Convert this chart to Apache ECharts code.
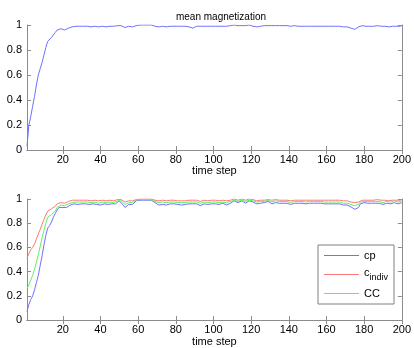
<!DOCTYPE html>
<html><head><meta charset="utf-8">
<script src="https://cdn.jsdelivr.net/npm/echarts@6/dist/echarts.min.js"></script>
<style>html,body{margin:0;padding:0;background:#fff}#c{width:414px;height:348px}</style>
</head><body><div id="c"></div>
<script>
const timeSteps = Array.from({length: 200}, (_, i) => String(i + 1));
const yTicks = [0, 0.2, 0.4, 0.6, 0.8, 1];
const topTitle = 'mean magnetization';
const xName = 'time step';
const legendNames = ['cp', 'c_indiv', 'CC'];

const magTop = [
0.03,0.20,0.27,0.35,0.43,0.52,0.60,0.65,0.70,0.76,0.82,0.87,0.88,0.90,0.92,0.94,0.96,0.97,0.97,0.965,
0.96,0.97,0.975,0.98,0.985,0.99,0.99,0.99,0.99,0.99,0.99,0.99,0.99,0.99,0.985,0.99,0.99,0.99,0.985,0.99,
0.99,0.99,0.985,0.99,0.99,0.99,0.99,0.99,0.995,1.0,0.995,0.985,0.98,0.985,0.99,0.98,0.985,0.99,0.995,1.0,
1.0,1.0,1.0,1.0,1.0,1.0,1.0,0.995,0.99,0.985,0.985,0.985,0.99,0.99,0.985,0.99,0.99,0.99,0.99,0.99,
0.99,0.99,0.99,0.985,0.99,0.99,0.985,0.98,0.975,0.98,0.99,0.99,0.99,0.99,0.99,0.99,0.99,0.99,0.99,0.99,
0.99,0.99,0.99,0.99,0.99,0.99,0.99,0.99,0.995,0.995,1.0,0.995,0.995,1.0,0.995,0.99,0.995,1.0,1.0,0.995,
0.99,0.985,0.985,0.99,0.99,0.995,0.995,0.995,0.995,0.995,0.995,0.995,0.995,0.995,0.995,0.99,0.995,0.995,0.995,0.995,
0.99,0.99,0.995,0.99,0.99,0.99,0.99,0.985,0.99,0.99,0.99,0.99,0.99,0.985,0.99,0.99,0.99,0.99,0.99,0.995,
0.99,0.99,0.99,0.985,0.99,0.985,0.99,0.99,0.985,0.98,0.985,0.98,0.975,0.97,0.965,0.97,0.985,0.99,0.995,0.99,
0.99,0.99,0.99,0.99,0.99,0.99,0.995,0.99,0.99,0.985,0.99,0.99,0.985,0.99,0.99,0.995,0.99,0.99,0.99,0.995];

const cpBottom = [
0.07,0.13,0.17,0.20,0.25,0.31,0.37,0.45,0.53,0.62,0.70,0.76,0.78,0.81,0.85,0.88,0.91,0.93,0.935,0.93,
0.915,0.93,0.945,0.95,0.955,0.96,0.96,0.955,0.96,0.96,0.965,0.96,0.96,0.955,0.95,0.96,0.96,0.955,0.945,0.95,
0.96,0.96,0.955,0.955,0.96,0.96,0.955,0.96,0.975,0.985,0.97,0.95,0.93,0.945,0.955,0.94,0.955,0.97,0.985,0.99,
0.99,0.985,0.99,0.99,0.99,0.985,0.99,0.985,0.97,0.955,0.95,0.955,0.955,0.96,0.95,0.955,0.96,0.955,0.96,0.96,
0.955,0.96,0.95,0.945,0.955,0.96,0.96,0.955,0.96,0.955,0.96,0.95,0.945,0.955,0.96,0.96,0.955,0.96,0.96,0.955,
0.96,0.96,0.955,0.96,0.965,0.955,0.95,0.96,0.965,0.975,0.985,0.975,0.97,0.98,0.985,0.975,0.965,0.975,0.985,0.99,
0.975,0.965,0.96,0.97,0.965,0.96,0.97,0.975,0.98,0.97,0.96,0.965,0.97,0.96,0.965,0.97,0.965,0.96,0.965,0.96,
0.955,0.96,0.965,0.97,0.965,0.96,0.965,0.97,0.96,0.955,0.965,0.97,0.965,0.96,0.965,0.97,0.965,0.96,0.96,0.965,
0.96,0.955,0.96,0.965,0.96,0.955,0.96,0.955,0.95,0.955,0.95,0.94,0.935,0.925,0.915,0.905,0.93,0.96,0.965,0.97,
0.97,0.965,0.97,0.965,0.96,0.965,0.97,0.965,0.96,0.955,0.96,0.965,0.95,0.96,0.965,0.97,0.965,0.96,0.965,0.97];

const cIndivBottom = [
0.51,0.55,0.58,0.60,0.63,0.67,0.71,0.75,0.79,0.83,0.87,0.90,0.91,0.92,0.93,0.94,0.96,0.97,0.97,0.97,
0.965,0.975,0.98,0.985,0.99,0.99,0.99,0.99,0.99,0.99,0.99,0.99,0.99,0.99,0.985,0.99,0.99,0.985,0.985,0.99,
0.99,0.99,0.985,0.99,0.99,0.99,0.985,0.99,0.995,1.0,0.995,0.985,0.975,0.98,0.985,0.98,0.985,0.99,0.995,1.0,
1.0,0.995,1.0,1.0,1.0,0.995,1.0,0.995,0.99,0.985,0.985,0.985,0.99,0.99,0.985,0.985,0.99,0.985,0.99,0.99,
0.985,0.99,0.985,0.98,0.985,0.99,0.99,0.985,0.99,0.985,0.99,0.985,0.98,0.985,0.99,0.99,0.985,0.99,0.99,0.985,
0.99,0.99,0.985,0.99,0.99,0.985,0.985,0.99,0.99,0.995,1.0,0.995,0.99,0.995,1.0,0.995,0.99,0.995,1.0,1.0,
0.995,0.99,0.985,0.99,0.99,0.985,0.99,0.995,0.995,0.99,0.99,0.99,0.995,0.99,0.99,0.995,0.99,0.99,0.99,0.99,
0.985,0.99,0.99,0.995,0.99,0.99,0.99,0.995,0.99,0.985,0.99,0.995,0.99,0.99,0.99,0.995,0.99,0.99,0.99,0.99,
0.99,0.985,0.99,0.99,0.99,0.985,0.99,0.985,0.985,0.985,0.985,0.98,0.975,0.97,0.97,0.965,0.975,0.985,0.99,0.99,
0.99,0.99,0.99,0.99,0.99,0.99,0.995,0.99,0.99,0.985,0.99,0.99,0.985,0.99,0.99,0.995,0.99,0.99,0.99,0.995];

const ccBottom = [
0.26,0.29,0.33,0.37,0.42,0.48,0.54,0.61,0.68,0.74,0.80,0.85,0.86,0.87,0.88,0.90,0.93,0.94,0.95,0.95,
0.945,0.955,0.96,0.965,0.97,0.975,0.975,0.97,0.975,0.975,0.975,0.975,0.975,0.97,0.97,0.975,0.975,0.97,0.965,0.97,
0.975,0.975,0.97,0.97,0.975,0.975,0.97,0.975,0.985,0.995,0.985,0.97,0.955,0.965,0.97,0.96,0.97,0.98,0.99,0.995,
0.995,0.99,0.995,0.995,0.995,0.99,0.995,0.99,0.98,0.97,0.97,0.97,0.975,0.975,0.97,0.97,0.975,0.97,0.975,0.975,
0.97,0.975,0.97,0.965,0.97,0.975,0.975,0.97,0.975,0.97,0.975,0.97,0.965,0.97,0.975,0.975,0.97,0.975,0.975,0.97,
0.975,0.975,0.97,0.975,0.975,0.97,0.97,0.975,0.98,0.985,0.99,0.985,0.98,0.985,0.99,0.985,0.98,0.985,0.99,0.995,
0.985,0.98,0.975,0.98,0.98,0.975,0.98,0.985,0.99,0.98,0.975,0.98,0.985,0.975,0.98,0.985,0.98,0.975,0.98,0.975,
0.97,0.975,0.98,0.985,0.98,0.975,0.98,0.985,0.975,0.97,0.98,0.985,0.98,0.975,0.98,0.985,0.98,0.975,0.975,0.98,
0.975,0.97,0.975,0.98,0.975,0.97,0.975,0.97,0.965,0.97,0.965,0.96,0.955,0.95,0.945,0.94,0.955,0.975,0.98,0.98,
0.98,0.98,0.985,0.98,0.975,0.98,0.985,0.98,0.975,0.97,0.975,0.98,0.97,0.975,0.98,0.985,0.98,0.975,0.98,0.985];

const FONT = 'Liberation Sans';
const BOX = '#8c8c8c';
const tickShow = (i) => (i + 1) % 20 === 0;

function xAxes(gi) {
  return [
    {type:'category', gridIndex:gi, data:timeSteps, boundaryGap:false, position:'bottom',
     name:xName, nameLocation:'middle', nameGap:14,
     nameTextStyle:{color:'#000', fontFamily:FONT, fontSize:11},
     axisLine:{lineStyle:{color:BOX, width:1}},
     axisTick:{inside:true, length:4, interval:tickShow, lineStyle:{color:BOX}},
     axisLabel:{interval:tickShow, color:'#000', fontFamily:FONT, fontSize:11, margin:4, showMaxLabel:true},
     splitLine:{show:false}},
    {type:'category', gridIndex:gi, data:timeSteps, boundaryGap:false, position:'top',
     axisLine:{lineStyle:{color:BOX, width:1}},
     axisTick:{inside:true, length:4, interval:tickShow, lineStyle:{color:BOX}},
     axisLabel:{show:false}, splitLine:{show:false}}
  ];
}
function yAxes(gi) {
  return [
    {type:'value', gridIndex:gi, min:0, max:1, interval:0.2, position:'left',
     axisLine:{show:true, lineStyle:{color:BOX, width:1}},
     axisTick:{show:true, inside:true, length:4, lineStyle:{color:BOX}},
     axisLabel:{color:'#000', fontFamily:FONT, fontSize:11, margin:5,
       formatter:(v)=> yTicks.includes(Math.round(v*10)/10) ? String(Math.round(v*10)/10) : ''},
     splitLine:{show:false}},
    {type:'value', gridIndex:gi, min:0, max:1, interval:0.2, position:'right',
     axisLine:{show:true, lineStyle:{color:BOX, width:1}},
     axisTick:{show:true, inside:true, length:4, lineStyle:{color:BOX}},
     axisLabel:{show:false}, splitLine:{show:false}}
  ];
}

const BLUE = '#7070ff', RED = '#ff7878', GREEN = '#5cf25c';
const legendColors = [BLUE, RED, GREEN];
function line(name, data, xi, yi, color) {
  return {name, type:'line', data, xAxisIndex:xi, yAxisIndex:yi, symbol:'none',
    lineStyle:{color, width:1}, itemStyle:{color}, animation:false, z:3};
}

const chart = echarts.init(document.getElementById('c'), null, {renderer:'canvas'});
chart.setOption({
  animation:false,
  backgroundColor:'#fff',
  title:{text:topTitle, left:216, textAlign:'center', top:7,
    textStyle:{color:'#000', fontFamily:FONT, fontSize:10, fontWeight:'normal'}},
  grid:[
    {left:27, top:25, width:378, height:125},
    {left:27, top:199, width:378, height:125}
  ],
  xAxis:[...xAxes(0), ...xAxes(1)],
  yAxis:[...yAxes(0), ...yAxes(1)],
  legend:{
    data: legendNames.map((n, i) => ({name:n, icon:'rect',
      itemStyle:{color:legendColors[i], borderWidth:0, opacity:1}})),
    orient:'vertical', left:318, top:245,
    padding:[5,6,5,6], itemGap:6, itemWidth:35, itemHeight:1,
    backgroundColor:'#fff', borderColor:'#808080', borderWidth:1,
    textStyle:{color:'#000', fontFamily:FONT, fontSize:11,
      rich:{sub:{fontSize:9, fontFamily:FONT, color:'#000', verticalAlign:'bottom', padding:[6,0,0,0]},
            base:{fontSize:11, fontFamily:FONT, color:'#000', verticalAlign:'top'}}},
    formatter:(n)=> n==='c_indiv' ? '{base|c}{sub|indiv}' : n
  },
  series:[
    line('mean', magTop, 0, 0, BLUE),
    line('cp', cpBottom, 2, 2, BLUE),
    line('c_indiv', cIndivBottom, 2, 2, RED),
    line('CC', ccBottom, 2, 2, GREEN)
  ]
});
</script></body></html>
